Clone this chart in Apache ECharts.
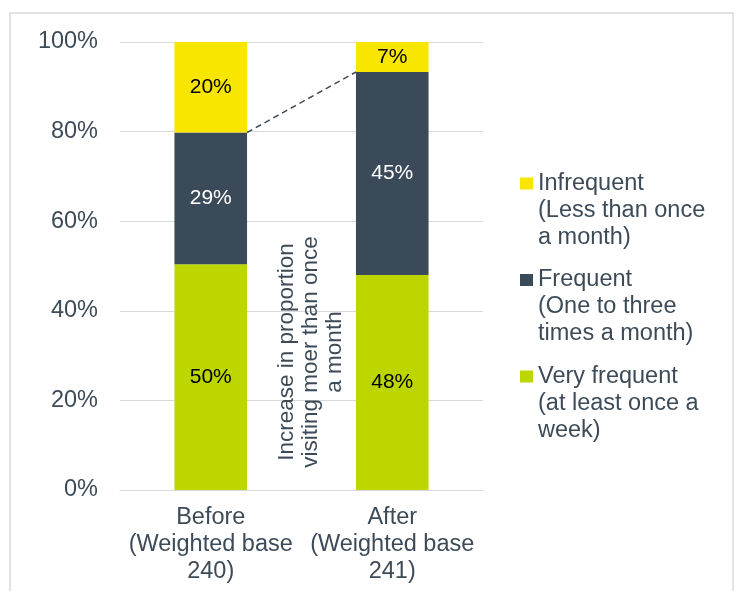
<!DOCTYPE html>
<html>
<head>
<meta charset="utf-8">
<script src="https://cdn.jsdelivr.net/npm/echarts@6/dist/echarts.min.js"></script>
<style>
  html, body { margin: 0; padding: 0; background: #fff; }
  #chart { width: 739px; height: 591px; }
</style>
</head>
<body>
<div id="chart"></div>
<script>
var categories = ["Before\n(Weighted base\n240)", "After\n(Weighted base\n241)"];
var veryFrequent = [50.4, 48.0];
var frequent = [29.4, 45.3];
var infrequent = [20.2, 6.7];
var seriesNames = [
  "Very frequent\n(at least once a\nweek)",
  "Frequent\n(One to three\ntimes a month)",
  "Infrequent\n(Less than once\na month)"
];
var yTicks = [0, 20, 40, 60, 80, 100];
var noteText = "Increase in proportion\nvisiting moer than once\na month";

var textColor = "#3d4b59";
var fontFamily = "'Liberation Sans', Arial, sans-serif";

var chart = echarts.init(document.getElementById("chart"));

function barSeries(name, values, color, labelColor) {
  return {
    name: name,
    type: "bar",
    stack: "total",
    barWidth: "40%",
    itemStyle: { color: color },
    label: {
      show: true,
      position: "inside",
      color: labelColor,
      fontSize: 21,
      fontFamily: fontFamily,
      formatter: function (p) {
        return Math.round(p.value) + "%";
      },
    },
    data: values,
  };
}

chart.setOption({
  animation: false,
  textStyle: { fontFamily: fontFamily },
  grid: { left: 120, right: 256, top: 42, bottom: 101 },
  legend: {
    orient: "vertical",
    left: 520,
    top: 116,
    padding: 0,
    itemWidth: 13,
    itemHeight: 12,
    itemGap: -38.5,
    icon: "rect",
    data: [seriesNames[2], seriesNames[1], seriesNames[0]],
    // two blank lines in front so the icon sits on the first line
    formatter: function (name) {
      return "\n\n" + name;
    },
    textStyle: {
      color: textColor,
      fontSize: 23.5,
      lineHeight: 27,
      fontFamily: fontFamily,
    },
  },
  xAxis: {
    type: "category",
    data: categories,
    axisLine: { lineStyle: { color: "#d9d9d9" } },
    axisTick: { show: false },
    axisLabel: {
      color: textColor,
      fontSize: 23.5,
      lineHeight: 27,
      margin: 14,
      interval: 0,
    },
  },
  yAxis: {
    type: "value",
    min: yTicks[0],
    max: yTicks[yTicks.length - 1],
    interval: 20,
    axisLine: { show: false },
    axisTick: { show: false },
    splitLine: { lineStyle: { color: "#d9d9d9" } },
    axisLabel: {
      color: textColor,
      fontSize: 23.5,
      margin: 22,
      formatter: "{value}%",
    },
  },
  series: [
    barSeries(seriesNames[0], veryFrequent, "#bdd600", "#000"),
    barSeries(seriesNames[1], frequent, "#3b4a58", "#fff"),
    barSeries(seriesNames[2], infrequent, "#f9e600", "#000"),
  ],
});

// dashed connector between the tops of the "frequent" segments, plus note and frame
var p0 = chart.convertToPixel({ seriesIndex: 0 }, [0, veryFrequent[0] + frequent[0]]);
var p1 = chart.convertToPixel({ seriesIndex: 0 }, [1, veryFrequent[1] + frequent[1]]);
var halfBar = (p1[0] - p0[0]) * 0.4 / 2;

chart.setOption({
  graphic: [
    {
      type: "rect",
      silent: true,
      shape: { x: 10, y: 13, width: 723, height: 620 },
      style: { fill: "none", stroke: "#d9d9d9", lineWidth: 1.5 },
      z: -1,
    },
    {
      type: "line",
      silent: true,
      shape: { x1: p0[0] + halfBar, y1: p0[1], x2: p1[0] - halfBar, y2: p1[1] },
      style: { stroke: "#3d4b59", lineWidth: 1.5, lineDash: [6, 4] },
    },
    {
      type: "text",
      silent: true,
      x: 311,
      y: 352,
      rotation: Math.PI / 2,
      style: {
        text: noteText,
        fill: textColor,
        fontSize: 22.5,
        lineHeight: 24,
        fontFamily: fontFamily,
        align: "center",
        verticalAlign: "middle",
      },
    },
  ],
});
</script>
</body>
</html>
